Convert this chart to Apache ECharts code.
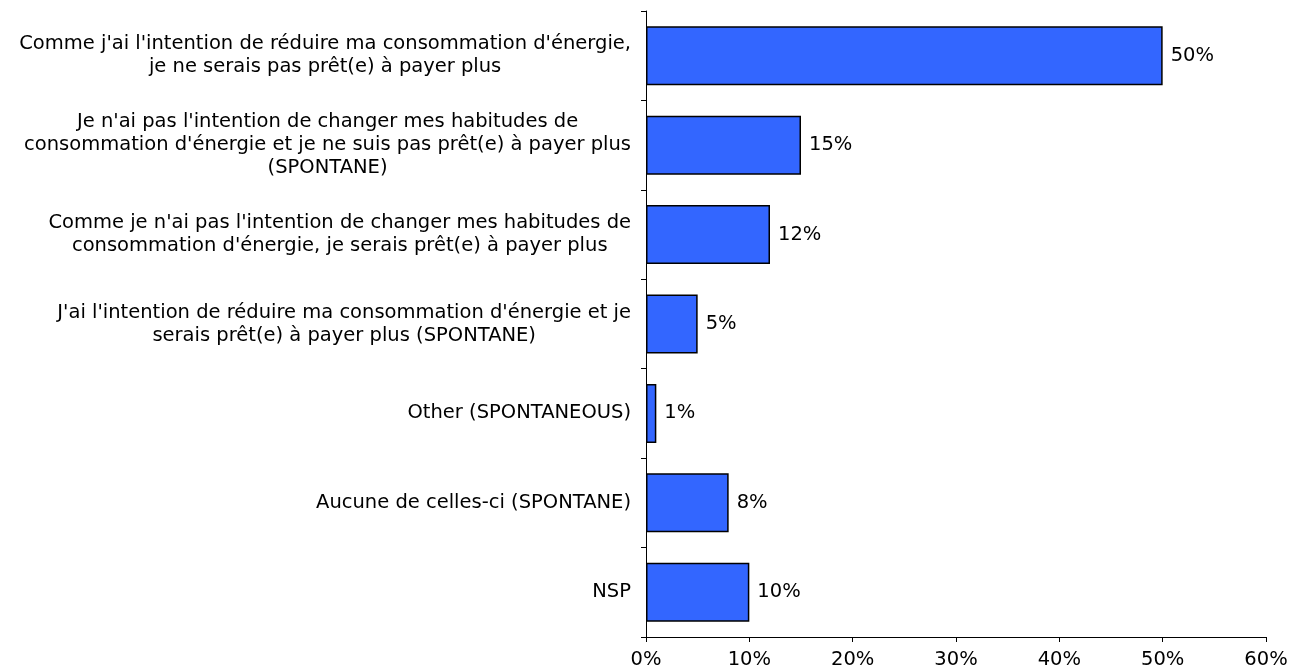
<!DOCTYPE html>
<html>
<head>
<meta charset="utf-8">
<script src="https://cdn.jsdelivr.net/npm/echarts@6/dist/echarts.min.js"></script>
<style>
  html, body { margin: 0; padding: 0; background: #fff; }
  #chart { width: 1299px; height: 671px; }
</style>
</head>
<body>
<div id="chart"></div>
<script>
// answers, top to bottom
var categories = [
    "Comme j'ai l'intention de réduire ma consommation d'énergie,\nje ne serais pas prêt(e) à payer plus",
    "Je n'ai pas l'intention de changer mes habitudes de\nconsommation d'énergie et je ne suis pas prêt(e) à payer plus\n(SPONTANE)",
    "Comme je n'ai pas l'intention de changer mes habitudes de\nconsommation d'énergie, je serais prêt(e) à payer plus",
    "J'ai l'intention de réduire ma consommation d'énergie et je\nserais prêt(e) à payer plus (SPONTANE)",
    "Other (SPONTANEOUS)",
    "Aucune de celles-ci (SPONTANE)",
    "NSP"
];
var values = [50, 15, 12, 5, 1, 8, 10];
var xTicks = [0, 10, 20, 30, 40, 50, 60];

var font = "'DejaVu Sans', Verdana, sans-serif";

var myChart = echarts.init(document.getElementById('chart'));
var option = {
    animation: false,
    backgroundColor: '#fff',
    grid: { left: 646, right: 33, top: 11, bottom: 34, containLabel: false },
    xAxis: {
        type: 'value',
        min: xTicks[0],
        max: xTicks[xTicks.length - 1],
        interval: 10,
        splitLine: { show: false },
        axisLine: { show: true, lineStyle: { color: '#000', width: 1 } },
        axisTick: { show: true, length: 5, lineStyle: { color: '#000' } },
        axisLabel: {
            formatter: '{value}%',
            color: '#000',
            fontFamily: font,
            fontSize: 19.5,
            margin: 13
        }
    },
    yAxis: {
        type: 'category',
        data: categories,
        inverse: true,
        axisLine: { show: true, lineStyle: { color: '#000', width: 1 } },
        axisTick: { show: true, length: 5, lineStyle: { color: '#000' } },
        axisLabel: {
            margin: 15,
            // rich token so that the lines of a label are centred on each other
            formatter: function (v) { return '{c|' + v + '}'; },
            rich: {
                c: {
                    align: 'center',
                    color: '#000',
                    fontFamily: font,
                    fontSize: 19.5,
                    lineHeight: 23
                }
            }
        }
    },
    series: [{
        type: 'bar',
        data: values,
        barCategoryGap: '34%',
        itemStyle: { color: '#3366ff', borderColor: '#000', borderWidth: 1.5 },
        label: {
            show: true,
            position: 'right',
            distance: 8,
            formatter: '{c}%',
            color: '#000',
            fontFamily: font,
            fontSize: 19.5
        }
    }]
};
option && myChart.setOption(option);
</script>
</body>
</html>
